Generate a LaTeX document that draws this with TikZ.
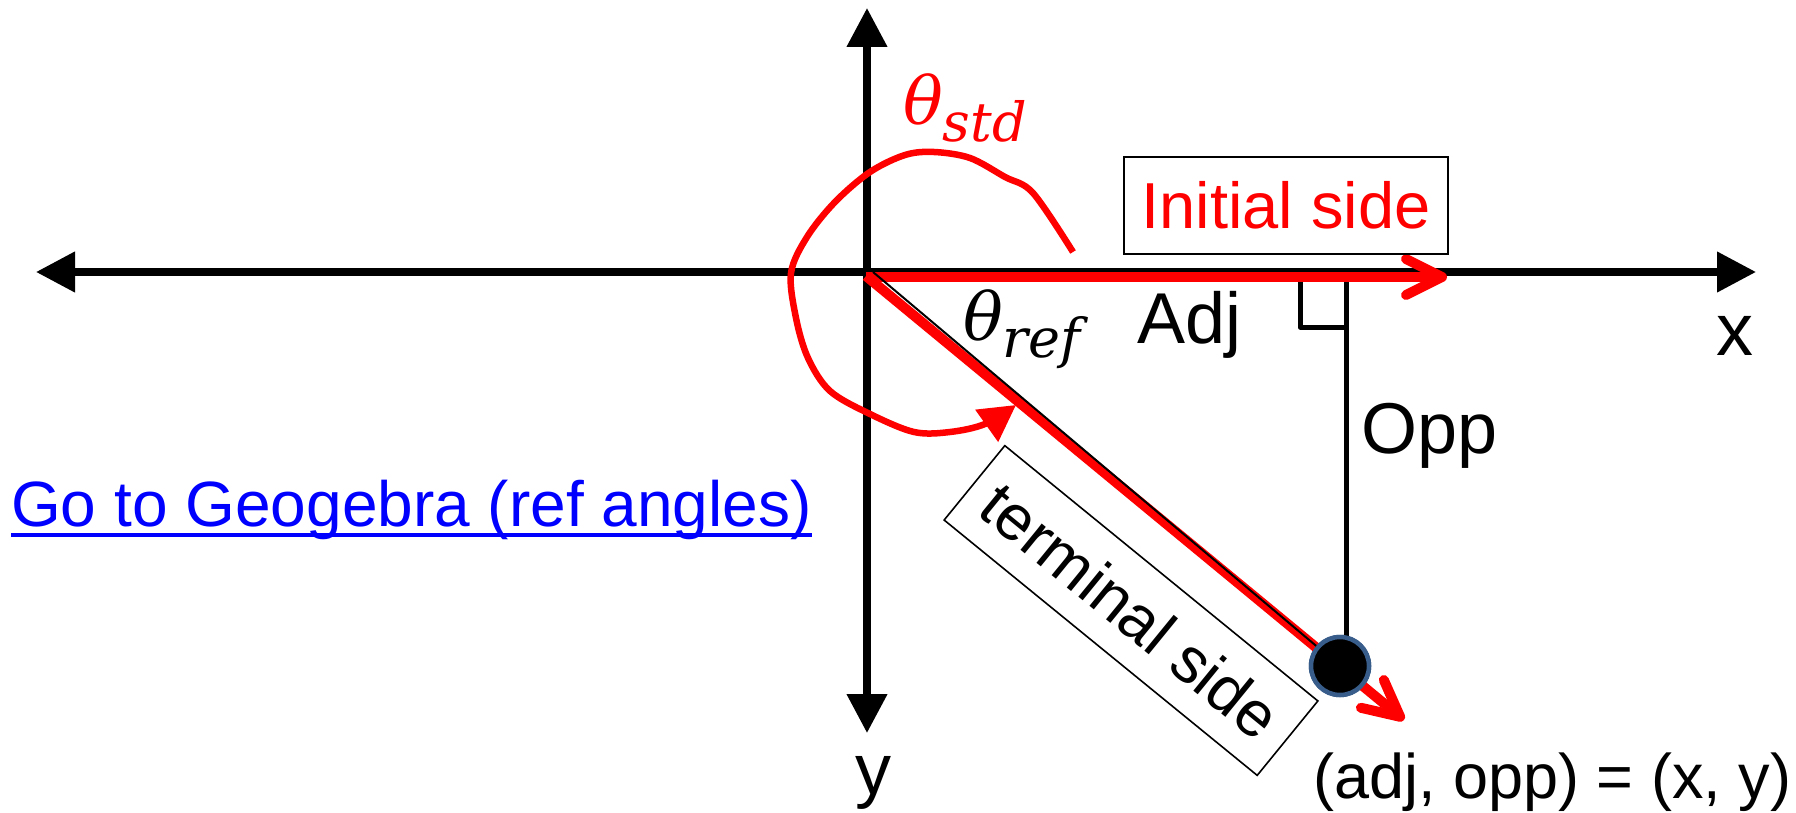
\documentclass[tikz,border=0pt]{standalone}
\usepackage{fontspec}
\setmainfont{Liberation Sans}
\newfontfamily\greekit{DejaVu Serif}
\usetikzlibrary{arrows.meta}
\definecolor{dotblue}{RGB}{56,93,138}
\definecolor{linkblue}{RGB}{0,0,255}
\newcommand{\thetasub}[1]{{\greekit\itshape\fontsize{66}{78}\selectfont θ\raisebox{-17pt}{\fontsize{54}{64}\selectfont #1}}}
\tikzset{
  axisline/.style={line width=7.5pt, {Triangle[length=39pt,width=39pt]}-{Triangle[length=39pt,width=39pt]}},
  sidearrow/.style={red, line width=10pt, -{Straight Barb[length=36pt,width=36pt,round]}},
  anglearc/.style={red, line width=6.5pt, line join=round, -{Triangle[length=36pt,width=38pt]}},
  thinbox/.style={draw, line width=1.6pt, inner sep=0pt},
  lbl/.style={anchor=base west, inner sep=0pt},
  big/.style={font=\fontsize{72}{86}\selectfont}
}
\begin{document}
\begin{tikzpicture}[x=1pt,y=-1pt]
\useasboundingbox (0,0) rectangle (1796,813);
% axes
\coordinate (xl) at (36,272);
\coordinate (xr) at (1756,272);
\coordinate (yt) at (867,8);
\coordinate (yb) at (867,733);
\draw[axisline] (xl) -- (xr);
\draw[axisline] (yt) -- (yb);
% point and opposite side
\coordinate (foot) at (1346,276);
\coordinate (thinstart) at (873,272);
\node[circle, fill=black, draw=dotblue, line width=4.5pt, minimum size=58pt, inner sep=0pt] (P) at (1340,666) {};
\draw[line width=5pt] (foot) -- (foot |- P.center);
\coordinate (ra1) at (1300,281);
\coordinate (ra2) at (1300,327);
\coordinate (ra3) at (1346,327);
\draw[line width=5pt, line join=round] (ra1) -- (ra2) -- (ra3);
% red initial side
\coordinate (i0) at (866,277);
\coordinate (itip) at (1447,277);
\draw[sidearrow] (i0) -- (itip);
% red terminal side
\coordinate (t0) at (866,276);
\coordinate (ttip) at (1404,720);
\draw[sidearrow] (t0) -- (ttip);
% thin terminal line
\draw[line width=2pt] (thinstart) -- (P.center);
% redraw dot on top
\node[circle, fill=black, draw=dotblue, line width=4.5pt, minimum size=58pt, inner sep=0pt] (Pdot) at (P.center) {};
% standard angle arc
\draw[anglearc] plot[smooth, tension=0.55] coordinates {(1073,252) (1033,193) (1005,177) (970,158) (934,152) (905,155) (870,172) (835,202) (807,237) (791,273) (796,318) (808,358) (830,391) (870,414) (914,432) (950,432) (985,424) (1016,405)};
% boxes
\node[thinbox, minimum width=324pt, minimum height=97pt, text=red, font=\fontsize{65}{78}\selectfont] (init) at (1286,205.5) {Initial side};
\node[thinbox, rotate=-39.2, minimum width=404pt, minimum height=96pt, font=\fontsize{64}{77}\selectfont] (term) at (1131,610.5) {terminal side};
% labels
\node[lbl, text=red] (tstd) at (903,125) {\thetasub{std}};
\node[lbl] (tref) at (963,340) {\thetasub{ref}};
\node[lbl, big] (adj) at (1137,343) {Adj};
\node[lbl, big] (opp) at (1361,453) {Opp};
\node[lbl, font=\fontsize{74}{88}\selectfont] (xlab) at (1716,355) {x};
\node[lbl, font=\fontsize{72}{86}\selectfont] (ylab) at (855,794) {y};
\node[lbl, font=\fontsize{63}{76}\selectfont] (coords) at (1313,798) {(adj, opp) = (x, y)};
\node[lbl, text=linkblue, font=\fontsize{64}{77}\selectfont] (link) at (11,526) {Go to Geogebra (ref angles)};
\draw[linkblue, line width=4pt] ([yshift=-9pt]link.base west) -- ([yshift=-9pt]link.base east);
\end{tikzpicture}
\end{document}
